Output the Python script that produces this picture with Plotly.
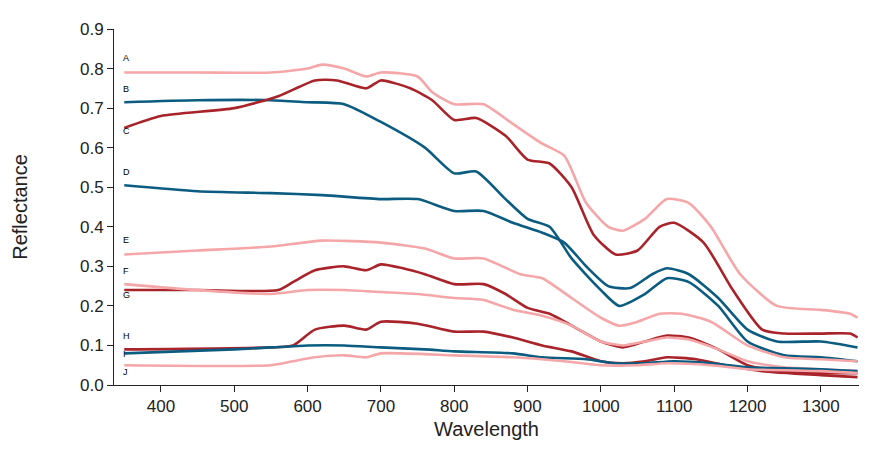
import plotly.graph_objects as go

PINK = "#f4a6a8"; RED = "#a8232a"; BLUE = "#0b5c80"

A_x = [350,450,550,600,620,650,680,700,750,770,800,840,880,920,950,980,1010,1030,1060,1090,1120,1150,1190,1240,1300,1340,1350]
A_y = [0.79,0.79,0.79,0.80,0.81,0.80,0.78,0.79,0.78,0.74,0.71,0.71,0.66,0.61,0.58,0.46,0.40,0.39,0.42,0.47,0.46,0.40,0.28,0.20,0.19,0.18,0.17]
C_x = [350,400,500,560,610,640,680,700,740,770,800,830,870,900,930,960,990,1020,1050,1080,1100,1140,1180,1220,1250,1300,1340,1350]
C_y = [0.65,0.68,0.70,0.73,0.77,0.77,0.75,0.77,0.75,0.72,0.67,0.675,0.63,0.57,0.56,0.50,0.38,0.33,0.34,0.40,0.41,0.36,0.24,0.14,0.13,0.13,0.13,0.12]
B_x = [350,450,550,600,650,700,760,800,830,870,900,930,960,1000,1025,1060,1090,1120,1160,1200,1250,1300,1350]
B_y = [0.715,0.72,0.72,0.715,0.71,0.665,0.60,0.535,0.54,0.47,0.42,0.40,0.32,0.24,0.20,0.23,0.27,0.26,0.20,0.11,0.075,0.07,0.06]
D_x = [350,450,550,620,700,750,800,840,880,920,950,980,1010,1040,1070,1090,1120,1160,1200,1240,1300,1350]
D_y = [0.505,0.49,0.485,0.48,0.47,0.47,0.44,0.44,0.41,0.385,0.36,0.30,0.25,0.245,0.28,0.295,0.28,0.22,0.14,0.11,0.11,0.095]
E_x = [350,450,550,620,700,760,800,840,890,920,960,1000,1025,1050,1080,1110,1150,1200,1250,1300,1350]
E_y = [0.33,0.34,0.35,0.365,0.36,0.345,0.32,0.32,0.28,0.27,0.22,0.17,0.15,0.16,0.18,0.18,0.16,0.10,0.07,0.065,0.06]
F_x = [350,450,560,580,610,650,680,700,730,760,800,840,870,900,930,970,1000,1030,1060,1090,1120,1160,1200,1250,1300,1350]
F_y = [0.24,0.24,0.24,0.26,0.29,0.30,0.29,0.305,0.295,0.28,0.255,0.255,0.23,0.195,0.18,0.14,0.11,0.095,0.11,0.125,0.12,0.09,0.05,0.035,0.03,0.03]
G_x = [350,450,550,600,650,700,750,800,840,880,920,960,1000,1030,1060,1090,1120,1160,1200,1250,1300,1350]
G_y = [0.255,0.24,0.23,0.24,0.24,0.235,0.23,0.22,0.215,0.19,0.175,0.15,0.11,0.10,0.11,0.12,0.115,0.09,0.06,0.045,0.04,0.035]
H_x = [350,550,580,610,650,680,700,750,800,840,880,920,960,1000,1030,1060,1090,1130,1170,1220,1300,1350]
H_y = [0.09,0.095,0.10,0.14,0.15,0.14,0.16,0.155,0.135,0.135,0.12,0.10,0.085,0.06,0.055,0.06,0.07,0.065,0.05,0.035,0.025,0.02]
I_x = [350,500,550,600,650,700,760,800,880,920,980,1020,1060,1100,1150,1200,1300,1350]
I_y = [0.08,0.09,0.095,0.10,0.10,0.095,0.09,0.085,0.08,0.07,0.065,0.055,0.055,0.06,0.055,0.045,0.04,0.035]
J_x = [350,550,580,610,650,680,700,800,880,950,1000,1050,1090,1150,1200,1300,1350]
J_y = [0.05,0.05,0.06,0.07,0.075,0.07,0.08,0.075,0.07,0.06,0.05,0.05,0.055,0.05,0.04,0.035,0.03]

series = [("A",A_x,A_y,PINK),("B",B_x,B_y,BLUE),("C",C_x,C_y,RED),("D",D_x,D_y,BLUE),
          ("E",E_x,E_y,PINK),("F",F_x,F_y,RED),("G",G_x,G_y,PINK),("H",H_x,H_y,RED),
          ("I",I_x,I_y,BLUE),("J",J_x,J_y,PINK)]
label_y = [0.81,0.73,0.625,0.52,0.35,0.27,0.21,0.105,0.06,0.015]

fig = go.Figure()
for (n,x,y,c) in series:
    fig.add_trace(go.Scatter(x=x,y=y,mode="lines",line=dict(color=c,width=2.6,shape="spline",smoothing=0.6),name=n,showlegend=False))
for (n,_,_,_),ly in zip(series,label_y):
    fig.add_annotation(x=346,y=ly,text=n,showarrow=False,xanchor="left",yanchor="bottom",font=dict(size=9,color="#000"))

fig.update_layout(width=889,height=453,margin=dict(l=106,r=38,t=13,b=76),
    plot_bgcolor="white",paper_bgcolor="white",font=dict(family="Liberation Sans, Arial",size=17,color="#222"))
fig.update_xaxes(range=[336,1352],tickvals=list(range(400,1301,100)),showline=True,linecolor="#222",
    ticks="outside",ticklen=6,tickcolor="#222",showgrid=False,zeroline=False,
    title=dict(text="Wavelength",standoff=6))
fig.update_yaxes(range=[0,0.9],dtick=0.1,tickformat=".1f",showline=True,linecolor="#222",
    ticks="outside",ticklen=6,tickcolor="#222",showgrid=False,zeroline=False,
    title=dict(text="Reflectance",standoff=46))
fig.write_html("out.html")
